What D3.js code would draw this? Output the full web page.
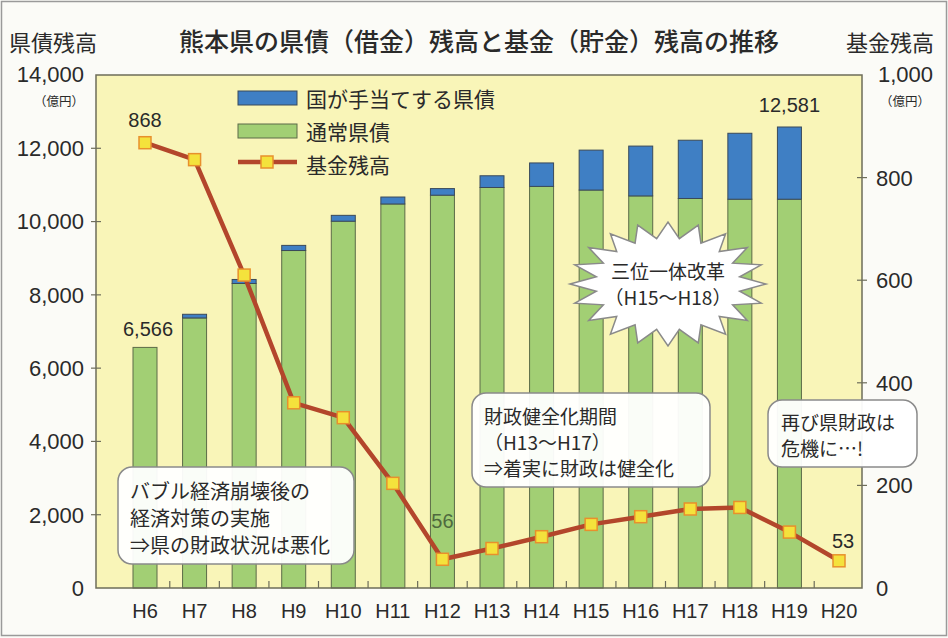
<!DOCTYPE html>
<html><head><meta charset="utf-8">
<script src="https://cdn.jsdelivr.net/npm/d3@7"></script>
<style>
html,body{margin:0;padding:0;background:#fbfbf7;}
svg{display:block;}
</style></head>
<body>
<svg id="c" width="948" height="638"></svg>
<script>
// ---- data ----
const categories = ["H6","H7","H8","H9","H10","H11","H12","H13","H14","H15","H16","H17","H18","H19","H20"];
const barCategories = ["H6","H7","H8","H9","H10","H11","H12","H13","H14","H15","H16","H17","H18","H19"];
const normalDebt = [6566,7370,8310,9210,10010,10480,10720,10930,10960,10860,10700,10630,10610,10610];
const stateDebt  = [0,100,110,140,160,190,180,320,640,1090,1360,1590,1800,1971];
const fundBalance = [868,835,610,361,332,204,56,77,100,124,139,154,157,109,53];
const leftTicks = [0,2000,4000,6000,8000,10000,12000,14000];
const rightTicks = [0,200,400,600,800,1000];
const seriesNames = ["国が手当てする県債","通常県債","基金残高"];
const titleText = "熊本県の県債（借金）残高と基金（貯金）残高の推移";

const JP = "'Noto Sans CJK JP', sans-serif";
const NUM = "'Liberation Sans', Arial, sans-serif";
const C = {bg:"#f9f5b8", green:"#a2cf74", greenStroke:"#5c6b48", blue:"#3f7fc4",
           line:"#b3462b", mFill:"#f4e23c", mStroke:"#e8902c", text:"#2a2a2a"};

const svg = d3.select("#c");
const P = {left:96, right:862, top:75, bottom:588};

// page frame
svg.append("rect").attr("x",1.5).attr("y",1.5).attr("width",945).attr("height",634)
  .attr("fill","#fbfbf7").attr("stroke","#9a9a9a").attr("stroke-width",1.5);

const x = d3.scalePoint().domain(categories).range([145, 839]);
const yL = d3.scaleLinear().domain([0,14000]).range([P.bottom, P.top]);
const yR = d3.scaleLinear().domain([0,1000]).range([P.bottom, P.top]);

// plot bg
svg.append("rect").attr("x",P.left).attr("y",P.top).attr("width",P.right-P.left).attr("height",P.bottom-P.top)
  .attr("fill",C.bg);

// bars
const barW = 24;
const bars = svg.append("g");
barCategories.forEach((c,i)=>{
  const cx = x(c);
  bars.append("rect").attr("x",cx-barW/2).attr("y",yL(normalDebt[i])).attr("width",barW)
    .attr("height",yL(0)-yL(normalDebt[i])).attr("fill",C.green).attr("stroke",C.greenStroke).attr("stroke-width",1);
  if(stateDebt[i]>0){
    bars.append("rect").attr("x",cx-barW/2).attr("y",yL(normalDebt[i]+stateDebt[i])).attr("width",barW)
      .attr("height",yL(normalDebt[i])-yL(normalDebt[i]+stateDebt[i])).attr("fill",C.blue).attr("stroke","#3a4a5a").attr("stroke-width",1);
  }
});

// plot frame
svg.append("rect").attr("x",P.left).attr("y",P.top).attr("width",P.right-P.left).attr("height",P.bottom-P.top)
  .attr("fill","none").attr("stroke","#6d6d5a").attr("stroke-width",1.5);

// category separator ticks
const step = x.step();
categories.slice(0,-1).forEach(c=>{
  svg.append("line").attr("x1",x(c)+step/2).attr("x2",x(c)+step/2).attr("y1",P.bottom).attr("y2",P.bottom-7)
    .attr("stroke","#6d6d5a").attr("stroke-width",1.2);
});

// left axis
const gL = svg.append("g");
leftTicks.forEach(t=>{
  if(t>0 && t<14000) gL.append("line").attr("x1",P.left-5).attr("x2",P.left+5).attr("y1",yL(t)).attr("y2",yL(t)).attr("stroke","#6d6d5a").attr("stroke-width",1.2);
  gL.append("text").attr("x",84).attr("y",t===14000?74:yL(t)).attr("dy","0.36em").attr("text-anchor","end")
    .attr("font-family",NUM).attr("font-size",22).attr("fill",C.text).text(d3.format(",")(t));
});
gL.append("text").attr("x",84).attr("y",101).attr("dy","0.36em").attr("text-anchor","end").attr("font-family",JP).attr("font-size",12.5).attr("fill",C.text).text("（億円）");

// right axis
const gR = svg.append("g");
rightTicks.forEach(t=>{
  if(t>0 && t<1000) gR.append("line").attr("x1",P.right-5).attr("x2",P.right+5).attr("y1",yR(t)).attr("y2",yR(t)).attr("stroke","#6d6d5a").attr("stroke-width",1.2);
  gR.append("text").attr("x",t===1000?878:876).attr("y",t===1000?74:yR(t)).attr("dy","0.36em").attr("text-anchor","start")
    .attr("font-family",NUM).attr("font-size",22).attr("fill",C.text).text(d3.format(",")(t));
});
gR.append("text").attr("x",880).attr("y",101).attr("dy","0.36em").attr("text-anchor","start").attr("font-family",JP).attr("font-size",12.5).attr("fill",C.text).text("（億円）");

// x labels
categories.forEach(c=>{
  svg.append("text").attr("x",x(c)).attr("y",611).attr("dy","0.36em").attr("text-anchor","middle")
    .attr("font-family",NUM).attr("font-size",20).attr("fill",C.text).text(c);
});

// titles
svg.append("text").attr("x",9).attr("y",43).attr("dy","0.36em").attr("font-family",JP).attr("font-size",22).attr("fill",C.text).text("県債残高");
svg.append("text").attr("x",846).attr("y",43).attr("dy","0.36em").attr("font-family",JP).attr("font-size",22).attr("fill",C.text).text("基金残高");
svg.append("text").attr("x",479).attr("y",42).attr("dy","0.36em").attr("text-anchor","middle").attr("font-family",JP).attr("font-weight",500).attr("font-size",25).attr("fill",C.text).text(titleText);

// starburst (decoration)
(function(){
  const cx=668, cy=284, rx=98, ry=62, n=20;
  const pts=[];
  for(let k=0;k<n*2;k++){
    const a = k*Math.PI/n;
    const f = k%2===0 ? 1 : 0.74;
    pts.push([cx+Math.cos(a)*rx*f, cy+Math.sin(a)*ry*f]);
  }
  svg.append("polygon").attr("points",pts.map(p=>p.join(",")).join(" "))
    .attr("fill","#ffffff").attr("stroke","#8a8a8a").attr("stroke-width",1.5);
  svg.append("text").attr("x",cx).attr("y",272).attr("dy","0.36em").attr("text-anchor","middle").attr("font-family",JP).attr("font-size",19).attr("fill",C.text).text("三位一体改革");
  svg.append("text").attr("x",cx).attr("y",298).attr("dy","0.36em").attr("text-anchor","middle").attr("font-family",JP).attr("font-size",19).attr("fill",C.text).text("（H15〜H18）");
})();

// annotation boxes
function note(x0,y0,w,h,lines,tx,ty,lh,fs){
  svg.append("rect").attr("x",x0).attr("y",y0).attr("width",w).attr("height",h).attr("rx",14)
    .attr("fill","#ffffff").attr("fill-opacity",0.95).attr("stroke","#8a8a8a").attr("stroke-width",1.5);
  lines.forEach((l,i)=>{
    svg.append("text").attr("x",tx).attr("y",ty+i*lh).attr("dy","0.36em").attr("font-family",JP).attr("font-size",fs).attr("fill",C.text).text(l);
  });
}

// line
const line = d3.line().x((d,i)=>x(categories[i])).y(d=>yR(d));
svg.append("path").datum(fundBalance).attr("d",line).attr("fill","none").attr("stroke",C.line).attr("stroke-width",4.5).attr("stroke-linejoin","round");
svg.selectAll("rect.m").data(fundBalance).enter().append("rect").attr("class","m")
  .attr("x",(d,i)=>x(categories[i])-6).attr("y",d=>yR(d)-6).attr("width",12).attr("height",12)
  .attr("fill",C.mFill).attr("stroke",C.mStroke).attr("stroke-width",1.5);

note(118,467,236,97,["バブル経済崩壊後の","経済対策の実施","⇒県の財政状況は悪化"],130,492,27,20);
note(472,393,238,94,["財政健全化期間","（H13〜H17）","⇒着実に財政は健全化"],484,417,26,19);
note(768,400,149,67,["再び県財政は","危機に…!"],781,423,26,19);

// value labels
function vlabel(t,xx,yy,col){
  svg.append("text").attr("x",xx).attr("y",yy).attr("dy","0.36em").attr("text-anchor","middle").attr("font-family",NUM).attr("font-size",20).attr("fill",col||C.text).text(t);
}
vlabel(d3.format(",")(fundBalance[0]), x("H6"), 120);
vlabel(d3.format(",")(normalDebt[0]+stateDebt[0]), x("H6")+3, 329);
vlabel(d3.format(",")(normalDebt[13]+stateDebt[13]), x("H19"), 105);
vlabel(String(fundBalance[6]), x("H12"), 521, "#4f6a3e");
vlabel(String(fundBalance[14]), x("H20")+4, 541);

// legend
const lg = svg.append("g");
lg.append("rect").attr("x",238).attr("y",91).attr("width",59).attr("height",14).attr("fill",C.blue).attr("stroke","#3a4a5a");
lg.append("rect").attr("x",238).attr("y",124).attr("width",59).attr("height",14).attr("fill",C.green).attr("stroke",C.greenStroke);
lg.append("line").attr("x1",238).attr("x2",297).attr("y1",162).attr("y2",162).attr("stroke",C.line).attr("stroke-width",4.5);
lg.append("rect").attr("x",261).attr("y",156).attr("width",12).attr("height",12).attr("fill",C.mFill).attr("stroke",C.mStroke).attr("stroke-width",1.5);
seriesNames.forEach((s,i)=>{
  lg.append("text").attr("x",306).attr("y",99+i*33).attr("dy","0.36em").attr("font-family",JP).attr("font-size",21).attr("fill",C.text).text(s);
});
</script>
</body></html>
